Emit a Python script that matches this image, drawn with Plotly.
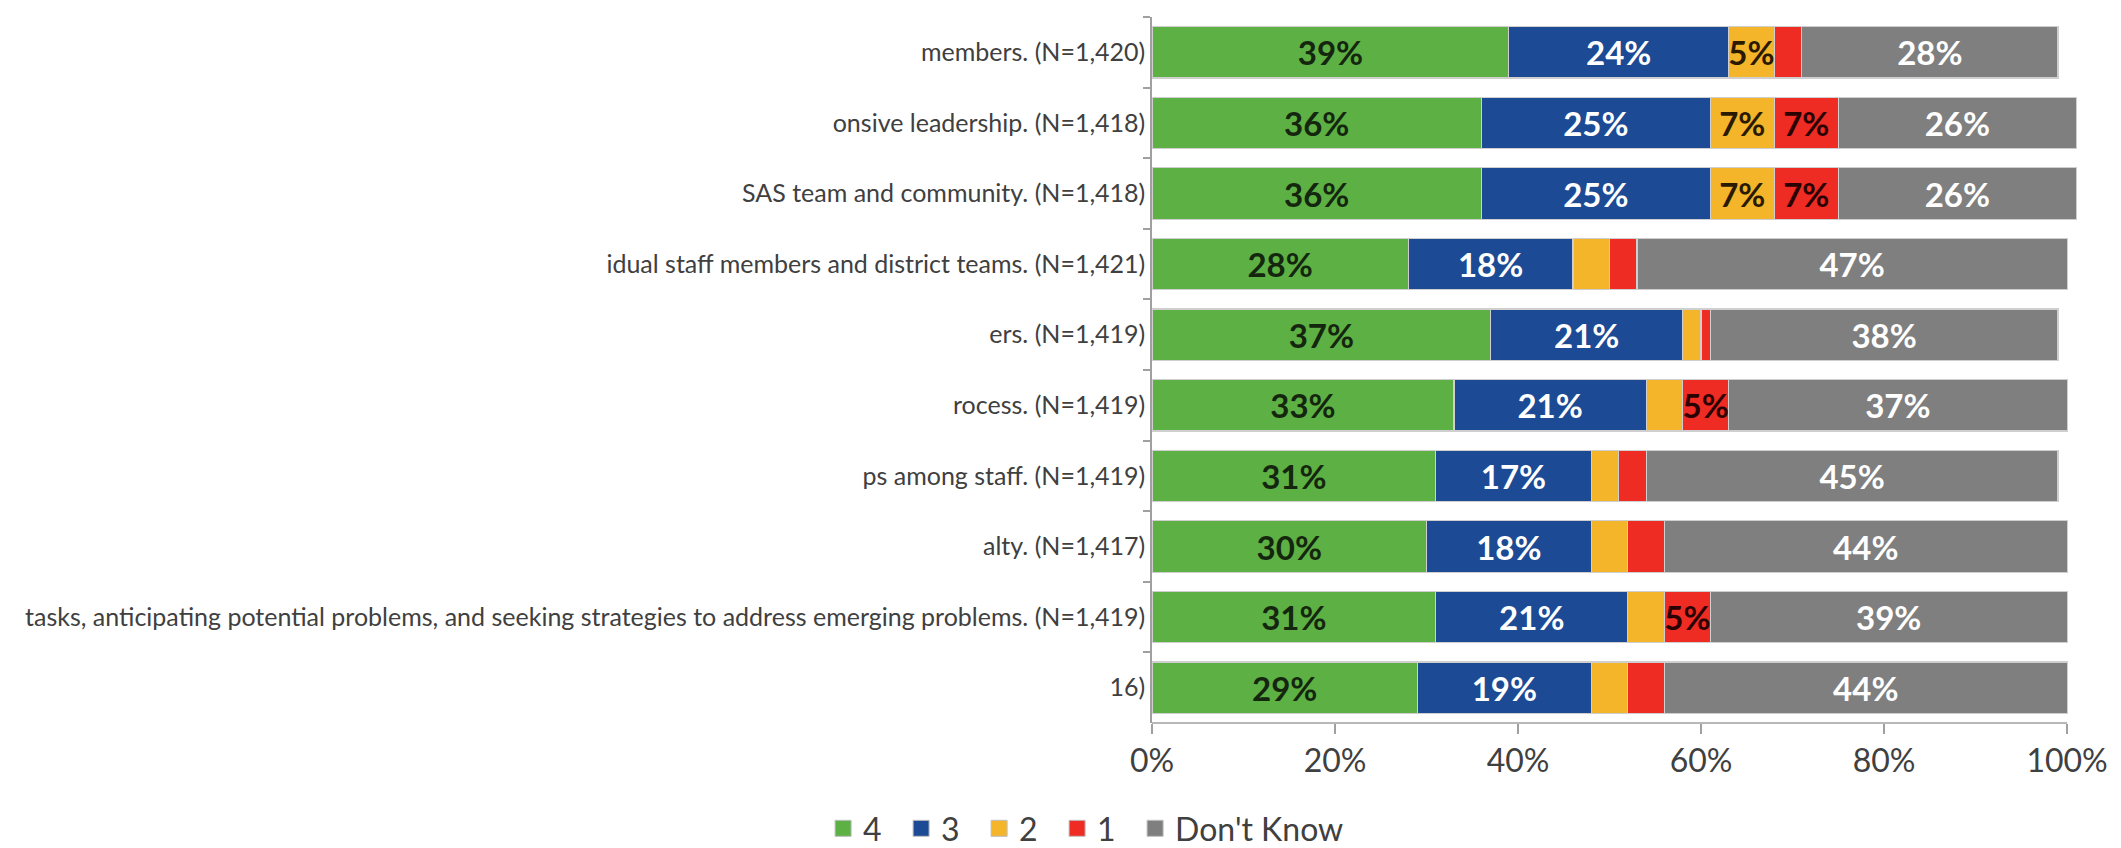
import plotly.graph_objects as go

categories = [
    "members. (N=1,420)",
    "onsive leadership. (N=1,418)",
    "SAS team and community. (N=1,418)",
    "idual staff members and district teams. (N=1,421)",
    "ers. (N=1,419)",
    "rocess. (N=1,419)",
    "ps among staff. (N=1,419)",
    "alty. (N=1,417)",
    "tasks, anticipating potential problems, and seeking strategies to address emerging problems. (N=1,419)",
    "16)",
]

series_names = ["4", "3", "2", "1", "Don't Know"]
v4 = [39, 36, 36, 28, 37, 33, 31, 30, 31, 29]
v3 = [24, 25, 25, 18, 21, 21, 17, 18, 21, 19]
v2 = [5, 7, 7, 4, 2, 4, 3, 4, 4, 4]
v1 = [3, 7, 7, 3, 1, 5, 3, 4, 5, 4]
vdk = [28, 26, 26, 47, 38, 37, 45, 44, 39, 44]

x_ticks = [0, 20, 40, 60, 80, 100]
x_tick_labels = ["0%", "20%", "40%", "60%", "80%", "100%"]

colors = ["#5DB043", "#1C4A94", "#F4B52A", "#EE2C24", "#7F7F7F"]
text_colors = ["#14260e", "#ffffff", "#2a1a00", "#2a0000", "#ffffff"]
legend_ids = ["legend", "legend", "legend", "legend", "legend2"]

FONT = "Lato"

fig = go.Figure()
for name, vals, col, tcol, lid in zip(series_names, [v4, v3, v2, v1, vdk], colors, text_colors, legend_ids):
    fig.add_trace(go.Bar(
        y=categories,
        x=vals,
        orientation="h",
        name=name,
        marker=dict(color=col, line=dict(color="#cfcfcf", width=1.2)),
        text=[f"{v}%" if v >= 5 else "" for v in vals],
        textposition="inside",
        insidetextanchor="middle",
        textangle=0,
        constraintext="none",
        textfont=dict(family=FONT, size=33, color=tcol, weight="bold"),
        showlegend=False,
        legendgroup=name,
        hoverinfo="x+y+name",
    ))
    # legend entry with a larger square symbol
    fig.add_trace(go.Scatter(
        x=[None], y=[None], mode="markers", name=name, legendgroup=name,
        legend=lid,
        marker=dict(symbol="square", size=18, color=col, line=dict(color="#bdbdbd", width=1)),
        showlegend=True,
    ))

legend_common = dict(
    orientation="h",
    xref="container", yref="container",
    xanchor="left",
    y=-0.004, yanchor="bottom",
    font=dict(family=FONT, size=32, color="#404040"),
    bgcolor="rgba(0,0,0,0)",
)

fig.update_layout(
    width=2121,
    height=848,
    barmode="stack",
    bargap=0.27,
    plot_bgcolor="white",
    paper_bgcolor="white",
    margin=dict(l=1144, r=50, t=9, b=133),
    font=dict(family=FONT, color="#404040"),
    legend=dict(legend_common, x=0.3843, entrywidth=33, entrywidthmode="pixels"),
    legend2=dict(legend_common, x=0.5314),
    xaxis=dict(
        range=[0, 101.3],
        tickmode="array",
        tickvals=x_ticks,
        ticktext=x_tick_labels,
        showgrid=False,
        zeroline=False,
        showline=False,
        ticks="outside",
        ticklen=10,
        tickwidth=1.5,
        tickcolor="#a0a0a0",
        tickfont=dict(family=FONT, size=32, color="#404040"),
        ticklabelstandoff=0,
    ),
    yaxis=dict(
        categoryorder="array",
        categoryarray=categories,
        autorange="reversed",
        showgrid=False,
        showline=True,
        linecolor="#a0a0a0",
        linewidth=1.5,
        ticks="outside",
        tickson="boundaries",
        ticklen=7,
        tickwidth=1.5,
        tickcolor="#a0a0a0",
        tickfont=dict(family=FONT, size=25, color="#404040"),
    ),
    shapes=[dict(
        type="line", xref="x", yref="paper",
        x0=x_ticks[0], x1=x_ticks[-1], y0=0, y1=0,
        line=dict(color="#a0a0a0", width=1.5),
    )],
)

fig.write_html("out.html")
